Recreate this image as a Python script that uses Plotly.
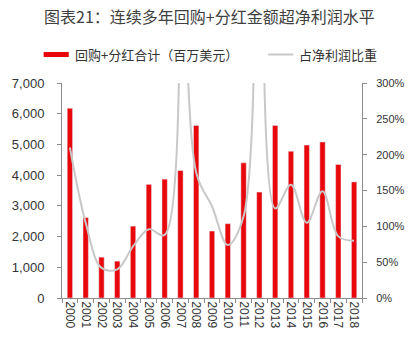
import plotly.graph_objects as go

years = [str(y) for y in range(2000, 2019)]
payout = [6180, 2620, 1330, 1200, 2340, 3700, 3870, 4150, 5620, 2180,
          2420, 4400, 3450, 5620, 4780, 4980, 5080, 4350, 3780]
ratio = [210, 105, 42, 40, 72, 96, 88, 750, 175, 128,
         74, 114, 620, 125, 158, 105, 149, 86, 80]

title_text = "图表21：连续多年回购+分红金额超净利润水平"
bar_name = "回购+分红合计（百万美元）"
line_name = "占净利润比重"

RED = "#e8070b"
GRAY = "#c8c8c8"
AX = "#8c8c8c"
TXT = "#333333"
cjk = "Noto Sans CJK SC"

fig = go.Figure()
fig.add_trace(go.Bar(x=years, y=payout, name=bar_name, marker_color=RED,
                     width=0.34, yaxis="y", showlegend=False))
fig.add_trace(go.Scatter(x=years, y=ratio, name=line_name, mode="lines",
                         line=dict(color=GRAY, width=2, shape="spline", smoothing=1),
                         yaxis="y2", showlegend=False))

fig.update_layout(
    width=417, height=342,
    margin=dict(l=59, r=48, t=83, b=44),
    paper_bgcolor="white", plot_bgcolor="white",
    xaxis=dict(type="category", tickangle=90,
               tickfont=dict(family="Liberation Sans, Arial", size=12, color=TXT),
               showline=True, linecolor=AX, linewidth=1,
               ticks="outside", ticklen=4, tickcolor=AX, tickson="boundaries",
               showgrid=False),
    yaxis=dict(range=[0, 7000], dtick=1000, tickformat=",",
               tickfont=dict(family="Liberation Sans, Arial", size=13, color=TXT),
               showline=True, linecolor=AX, linewidth=1,
               ticks="outside", ticklen=4, tickcolor=AX, showgrid=False,
               zeroline=False, ticklabelstandoff=10),
    yaxis2=dict(range=[0, 300], dtick=50, ticksuffix="%",
                tickfont=dict(family="Liberation Sans, Arial", size=11, color=TXT),
                overlaying="y", side="right",
                showline=True, linecolor=AX, linewidth=1,
                ticks="outside", ticklen=4, tickcolor=AX, showgrid=False,
                zeroline=False, ticklabelstandoff=7),
    bargap=0.6,
)

def px(xp):
    return (xp - 59) / 310

def py(yp):
    return (298 - yp) / 215

# title
fig.add_annotation(text=title_text, xref="paper", yref="paper",
                   x=px(38), y=py(16), xanchor="left", yanchor="middle",
                   showarrow=False, font=dict(family=cjk, size=16, color="#404040"))

# manual legend
fig.add_shape(type="rect", xref="paper", yref="paper",
              x0=px(40), x1=px(66), y0=py(57), y1=py(52),
              fillcolor=RED, line=dict(width=0))
fig.add_annotation(text=bar_name, xref="paper", yref="paper",
                   x=px(70), y=py(54.5), xanchor="left", yanchor="middle",
                   showarrow=False, font=dict(family=cjk, size=13, color=TXT))
fig.add_shape(type="line", xref="paper", yref="paper",
              x0=px(272), x1=px(298), y0=py(54.5), y1=py(54.5),
              line=dict(color=GRAY, width=2))
fig.add_annotation(text=line_name, xref="paper", yref="paper",
                   x=px(302), y=py(54.5), xanchor="left", yanchor="middle",
                   showarrow=False, font=dict(family=cjk, size=13, color=TXT))

fig.write_html("out.html")
